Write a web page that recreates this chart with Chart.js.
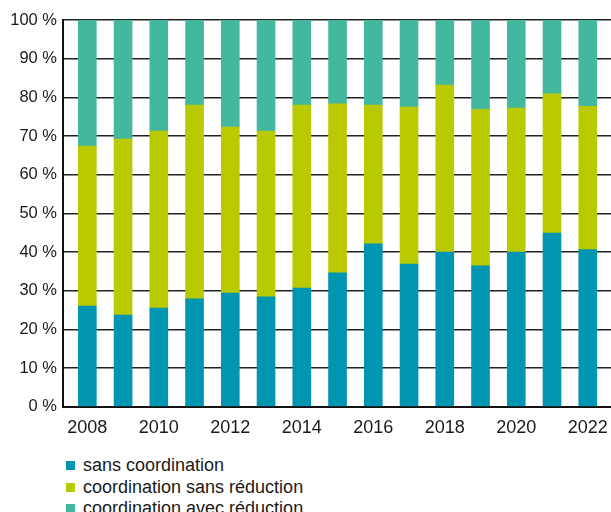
<!DOCTYPE html>
<html>
<head>
<meta charset="utf-8">
<script src="https://cdn.jsdelivr.net/npm/chart.js@4"></script>
<style>
  html, body { margin: 0; padding: 0; background: #fff; overflow: hidden; }
  #wrap { position: relative; width: 611px; height: 512px; }
  #legend { position: absolute; left: 66px; top: 455px; font: 18px "Liberation Sans", Arial, sans-serif; color: #1a1a1a; }
  #legend div { height: 21.5px; line-height: 21.5px; white-space: nowrap; }
  #legend span { display: inline-block; width: 9px; height: 9px; margin-right: 8px; vertical-align: 1px; }
</style>
</head>
<body>
<div id="wrap">
  <canvas id="chart" width="611" height="445"></canvas>
  <div id="legend"></div>
</div>
<script>
var years = [2008, 2009, 2010, 2011, 2012, 2013, 2014, 2015, 2016, 2017, 2018, 2019, 2020, 2021, 2022];
var yearTicks = [2008, 2010, 2012, 2014, 2016, 2018, 2020, 2022];
var seriesNames = ['sans coordination', 'coordination sans réduction', 'coordination avec réduction'];
var sansCoordination = [26.0, 23.7, 25.5, 27.9, 29.4, 28.4, 30.7, 34.6, 42.1, 36.9, 40.0, 36.4, 40.0, 44.9, 40.6];
var coordSansReduction = [41.4, 45.5, 45.8, 50.1, 42.9, 42.9, 47.3, 43.7, 35.9, 40.6, 43.2, 40.5, 37.2, 36.0, 37.1];
var coordAvecReduction = [32.6, 30.8, 28.7, 22.0, 27.7, 28.7, 22.0, 21.7, 22.0, 22.5, 16.8, 23.1, 22.8, 19.1, 22.3];
var colors = ['#0095b0', '#b9ca00', '#44b89e'];

var family = '"Liberation Sans", Arial, sans-serif';
Chart.defaults.color = '#1a1a1a';

var ctx = document.getElementById('chart').getContext('2d');
var chart = new Chart(ctx, {
  type: 'bar',
  data: {
    labels: years,
    datasets: [
      { label: seriesNames[0], data: sansCoordination, backgroundColor: colors[0] },
      { label: seriesNames[1], data: coordSansReduction, backgroundColor: colors[1] },
      { label: seriesNames[2], data: coordAvecReduction, backgroundColor: colors[2] }
    ]
  },
  options: {
    responsive: false,
    animation: false,
    barThickness: 18,
    layout: { padding: { top: 20, right: 0, left: 0, bottom: 0 } },
    plugins: { legend: { display: false }, tooltip: { enabled: false } },
    scales: {
      x: {
        type: 'linear',
        stacked: true,
        offset: false,
        bounds: 'data',
        min: 2007.32,
        max: 2022.65,
        grid: { display: false, drawTicks: false, offset: false },
        border: { display: true, color: '#111', width: 2 },
        ticks: { padding: 11, font: { family: family, size: 18 }, maxRotation: 0, autoSkip: false,
          callback: function (v) { return String(v); } },
        afterBuildTicks: function (scale) {
          scale.ticks = yearTicks.map(function (v) { return { value: v }; });
        },
        afterFit: function (scale) {
          scale.height = 38.3;
          scale.paddingLeft = 0;
          scale.paddingRight = 0;
        }
      },
      y: {
        stacked: true,
        min: 0,
        max: 100,
        grid: { color: '#222', lineWidth: 1.5, drawTicks: false },
        border: { display: true, color: '#111', width: 2 },
        ticks: { stepSize: 10, padding: 6, font: { family: family, size: 16.5 },
          callback: function (v) { return v + ' %'; } },
        afterFit: function (scale) { scale.width = 63; }
      }
    }
  }
});

// legend as a vertical list under the chart
var legend = document.getElementById('legend');
chart.data.datasets.forEach(function (ds) {
  var row = document.createElement('div');
  var box = document.createElement('span');
  box.style.background = ds.backgroundColor;
  row.appendChild(box);
  row.appendChild(document.createTextNode(ds.label));
  legend.appendChild(row);
});
</script>
</body>
</html>
